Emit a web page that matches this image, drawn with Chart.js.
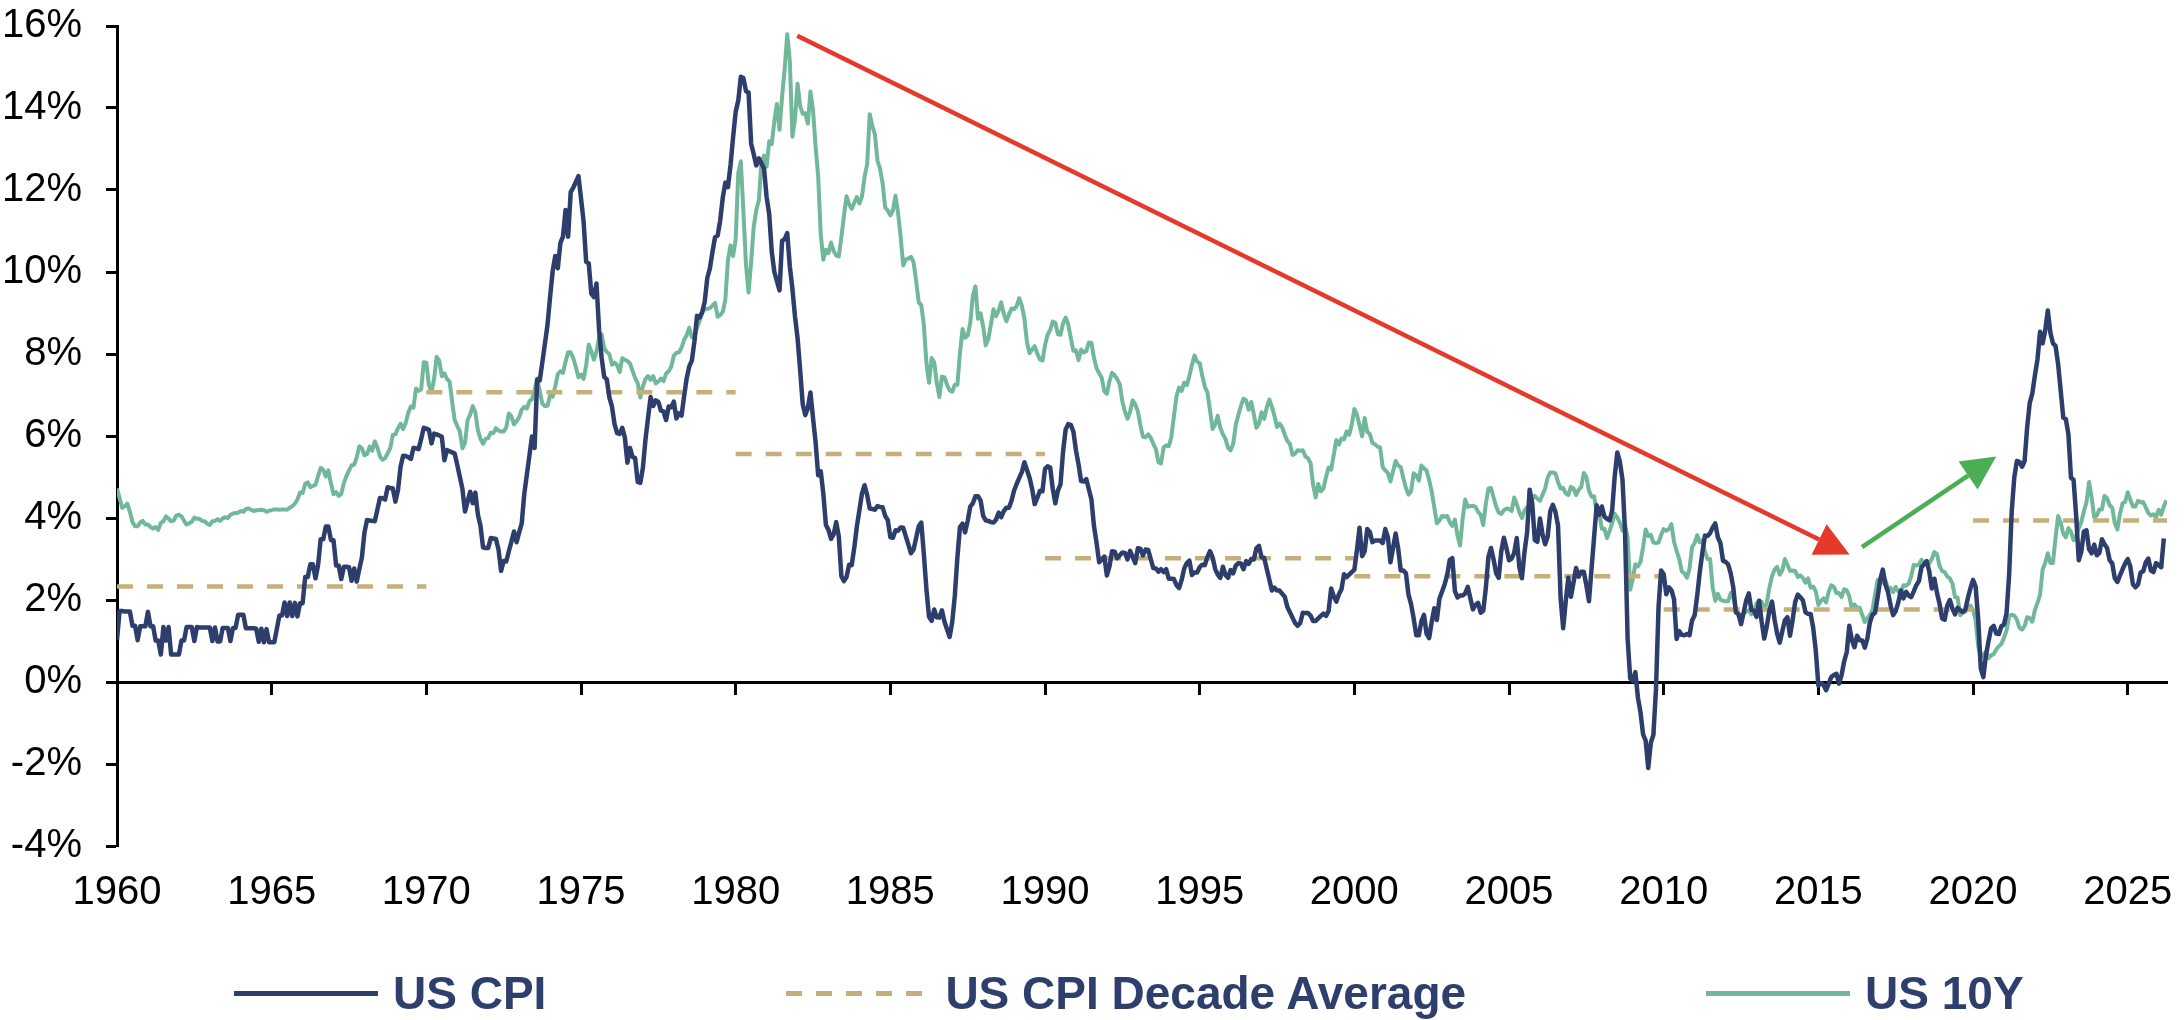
<!DOCTYPE html>
<html>
<head>
<meta charset="utf-8">
<title>US CPI vs US 10Y</title>
<script src="https://cdn.jsdelivr.net/npm/chart.js@4.4.1/dist/chart.umd.min.js"></script>
<style>
    html, body { margin: 0; padding: 0; background: #fff; }
    #wrap { position: relative; width: 2184px; height: 1020px; }
    #chart { display: block; }
    #legend {
        position: absolute; left: 234px; top: 968px; height: 50px;
        display: flex; align-items: center; gap: 240px;
        font-family: 'Liberation Sans', Arial, sans-serif;
        font-weight: bold; font-size: 46px; color: #2e3f6e; white-space: nowrap;
    }
    #legend .item { display: flex; align-items: center; }
    #legend .swatch { display: inline-block; width: 144px; height: 5px; margin-right: 15px; }
</style>
</head>
<body>
<div id="wrap">
    <canvas id="chart" width="2184" height="1020"></canvas>
    <div id="legend"></div>
</div>
<script>
// monthly series, first value = Jan 1960
const startYear = 1960;
const xMin = 1960;
const xMax = 2026.27;
const yearTicks = [1960, 1965, 1970, 1975, 1980, 1985, 1990, 1995, 2000, 2005, 2010, 2015, 2020, 2025];

// US CPI, % y/y
const cpiYoY = [
    1.03, 1.73, 1.73, 1.72, 1.72, 1.72, 1.37, 1.37, 1.02, 1.36, 1.36, 1.36, // 1960
    1.71, 1.36, 1.36, 1.01, 1.01, 0.67, 1.34, 1.01, 1.34, 0.67, 0.67, 0.67,
    0.67, 1.01, 1.01, 1.34, 1.34, 1.34, 1.00, 1.34, 1.33, 1.33, 1.33, 1.33,
    1.33, 1.00, 1.33, 0.99, 0.99, 1.32, 1.32, 1.32, 1.00, 1.32, 1.32, 1.64,
    1.64, 1.64, 1.31, 1.31, 1.31, 1.31, 1.30, 0.98, 1.30, 0.97, 1.29, 0.97,
    0.97, 0.97, 1.29, 1.62, 1.62, 1.94, 1.61, 1.94, 1.61, 1.93, 1.60, 1.92, // 1965
    1.92, 2.56, 2.56, 2.87, 2.87, 2.53, 2.85, 3.48, 3.48, 3.79, 3.79, 3.46,
    3.46, 2.84, 2.84, 2.51, 2.81, 2.81, 2.80, 2.47, 2.77, 2.45, 2.75, 3.04,
    3.65, 3.95, 3.94, 3.93, 3.92, 4.20, 4.49, 4.48, 4.45, 4.75, 4.73, 4.72,
    4.40, 4.68, 5.25, 5.52, 5.51, 5.48, 5.44, 5.71, 5.70, 5.68, 5.93, 6.20,
    6.18, 6.15, 5.82, 6.06, 6.04, 6.01, 5.98, 5.41, 5.66, 5.63, 5.60, 5.57, // 1970
    5.29, 5.00, 4.71, 4.16, 4.40, 4.64, 4.36, 4.62, 4.08, 3.81, 3.28, 3.27,
    3.27, 3.51, 3.50, 3.49, 3.23, 2.71, 2.95, 2.94, 3.19, 3.42, 3.67, 3.41,
    3.65, 3.87, 4.59, 5.06, 5.53, 5.99, 5.71, 7.38, 7.36, 7.80, 8.25, 8.71,
    9.39, 10.02, 10.39, 10.09, 10.71, 10.86, 11.51, 10.86, 11.95, 12.06, 12.20, 12.34,
    11.80, 11.23, 10.25, 10.21, 9.47, 9.39, 9.72, 8.60, 7.91, 7.44, 7.38, 6.94, // 1975
    6.72, 6.29, 6.07, 6.05, 6.20, 5.97, 5.35, 5.71, 5.49, 5.46, 4.88, 4.86,
    5.22, 5.91, 6.44, 6.95, 6.73, 6.87, 6.83, 6.62, 6.60, 6.39, 6.72, 6.70,
    6.84, 6.43, 6.55, 6.50, 6.97, 7.41, 7.70, 7.84, 8.31, 8.93, 8.89, 9.02,
    9.28, 9.86, 10.09, 10.49, 10.85, 10.89, 11.26, 11.82, 12.18, 12.07, 12.61, 13.29,
    13.91, 14.18, 14.76, 14.73, 14.41, 14.38, 13.13, 12.87, 12.60, 12.77, 12.65, 12.52, // 1980
    11.83, 11.41, 10.49, 10.00, 9.78, 9.55, 10.76, 10.80, 10.95, 10.14, 9.59, 8.92,
    8.39, 7.62, 6.78, 6.51, 6.68, 7.06, 6.44, 5.85, 5.04, 5.14, 4.59, 3.83,
    3.71, 3.49, 3.60, 3.90, 3.55, 2.58, 2.46, 2.56, 2.86, 2.85, 3.27, 3.79,
    4.19, 4.60, 4.80, 4.56, 4.23, 4.22, 4.20, 4.29, 4.27, 4.26, 4.05, 3.95,
    3.53, 3.52, 3.70, 3.69, 3.77, 3.76, 3.55, 3.35, 3.14, 3.23, 3.51, 3.80, // 1985
    3.89, 3.11, 2.26, 1.59, 1.49, 1.77, 1.58, 1.57, 1.75, 1.47, 1.28, 1.10,
    1.46, 2.10, 3.03, 3.78, 3.86, 3.65, 3.93, 4.28, 4.36, 4.53, 4.53, 4.43,
    4.05, 3.94, 3.93, 3.90, 3.89, 3.96, 4.13, 4.02, 4.17, 4.25, 4.25, 4.42,
    4.67, 4.83, 4.98, 5.12, 5.36, 5.17, 4.98, 4.71, 4.34, 4.49, 4.66, 4.65,
    5.20, 5.26, 5.23, 4.71, 4.36, 4.67, 4.82, 5.62, 6.16, 6.29, 6.27, 6.11, // 1990
    5.65, 5.31, 4.90, 4.89, 4.95, 4.70, 4.45, 3.80, 3.39, 2.92, 2.99, 3.06,
    2.60, 2.82, 3.19, 3.18, 3.02, 3.09, 3.16, 3.15, 2.99, 3.20, 3.05, 2.90,
    3.26, 3.25, 3.09, 3.23, 3.22, 3.00, 2.78, 2.77, 2.69, 2.75, 2.68, 2.75,
    2.52, 2.52, 2.51, 2.36, 2.29, 2.49, 2.77, 2.90, 2.96, 2.61, 2.67, 2.67,
    2.80, 2.86, 2.85, 3.05, 3.19, 3.04, 2.76, 2.62, 2.54, 2.81, 2.61, 2.54, // 1995
    2.73, 2.65, 2.84, 2.90, 2.89, 2.75, 2.95, 2.88, 3.00, 2.99, 3.26, 3.32,
    3.04, 3.03, 2.76, 2.50, 2.23, 2.30, 2.23, 2.23, 2.15, 2.08, 1.83, 1.70,
    1.57, 1.44, 1.37, 1.44, 1.69, 1.68, 1.68, 1.62, 1.49, 1.49, 1.55, 1.61,
    1.67, 1.61, 1.73, 2.28, 2.09, 1.96, 2.14, 2.26, 2.63, 2.56, 2.62, 2.68,
    2.74, 3.22, 3.76, 3.07, 3.19, 3.73, 3.66, 3.41, 3.45, 3.45, 3.45, 3.39, // 2000
    3.73, 3.53, 2.92, 3.27, 3.62, 3.25, 2.72, 2.72, 2.65, 2.13, 1.90, 1.55,
    1.14, 1.14, 1.48, 1.64, 1.18, 1.07, 1.46, 1.80, 1.51, 2.03, 2.20, 2.38,
    2.60, 2.98, 3.02, 2.22, 2.06, 2.11, 2.11, 2.16, 2.32, 2.04, 1.77, 1.88,
    1.93, 1.69, 1.74, 2.29, 3.05, 3.27, 2.99, 2.65, 2.54, 3.19, 3.52, 3.26,
    2.97, 3.01, 3.15, 3.51, 2.80, 2.53, 3.17, 3.64, 4.69, 4.35, 3.46, 3.42, // 2005
    3.99, 3.60, 3.36, 3.55, 4.17, 4.32, 4.15, 3.82, 2.06, 1.31, 1.97, 2.54,
    2.08, 2.42, 2.78, 2.57, 2.69, 2.69, 2.36, 1.97, 2.76, 3.54, 4.31, 4.08,
    4.28, 4.03, 3.98, 3.94, 4.18, 5.02, 5.60, 5.37, 4.94, 3.66, 1.07, 0.09,
    0.03, 0.24, -0.38, -0.74, -1.28, -1.43, -2.10, -1.48, -1.29, -0.18, 1.84, 2.72,
    2.63, 2.14, 2.31, 2.24, 2.02, 1.05, 1.24, 1.15, 1.14, 1.17, 1.14, 1.50, // 2010
    1.63, 2.11, 2.68, 3.16, 3.57, 3.56, 3.63, 3.77, 3.87, 3.53, 3.39, 2.96,
    2.93, 2.87, 2.65, 2.30, 1.70, 1.66, 1.41, 1.69, 1.99, 2.16, 1.76, 1.74,
    1.59, 1.98, 1.47, 1.06, 1.36, 1.75, 1.96, 1.52, 1.18, 0.96, 1.24, 1.50,
    1.58, 1.13, 1.51, 1.95, 2.13, 2.07, 1.99, 1.70, 1.66, 1.66, 1.32, 0.76,
    -0.09, -0.03, -0.07, -0.20, -0.04, 0.12, 0.17, 0.20, -0.04, 0.17, 0.50, 0.73, // 2015
    1.37, 1.02, 0.85, 1.13, 1.02, 1.01, 0.84, 1.06, 1.46, 1.64, 1.69, 2.07,
    2.50, 2.74, 2.38, 2.20, 1.87, 1.63, 1.73, 1.94, 2.23, 2.04, 2.20, 2.11,
    2.07, 2.21, 2.36, 2.46, 2.80, 2.87, 2.95, 2.70, 2.28, 2.52, 2.18, 1.91,
    1.55, 1.52, 1.86, 2.00, 1.79, 1.65, 1.81, 1.75, 1.71, 1.76, 2.05, 2.29,
    2.49, 2.33, 1.54, 0.33, 0.12, 0.65, 0.99, 1.31, 1.37, 1.18, 1.17, 1.36, // 2020
    1.40, 1.68, 2.62, 4.16, 4.99, 5.39, 5.37, 5.25, 5.39, 6.22, 6.81, 7.04,
    7.48, 7.87, 8.54, 8.26, 8.58, 9.06, 8.52, 8.26, 8.20, 7.75, 7.11, 6.45,
    6.41, 6.04, 4.98, 4.93, 4.05, 2.97, 3.18, 3.67, 3.70, 3.24, 3.14, 3.35,
    3.09, 3.15, 3.48, 3.36, 3.27, 2.97, 2.89, 2.53, 2.44, 2.60, 2.75, 2.89,
    3.00, 2.82, 2.39, 2.31, 2.38, 2.67, 2.70, 2.92, 3.01, 2.72, 2.68, 2.90, // 2025
    2.85, 2.80, 3.50
];

// US 10Y Treasury yield, %
const us10y = [
    4.72, 4.49, 4.25, 4.28, 4.35, 4.15, 3.90, 3.80, 3.80, 3.89, 3.93, 3.84, // 1960
    3.84, 3.78, 3.74, 3.78, 3.71, 3.88, 3.92, 4.04, 3.98, 3.92, 3.94, 4.06,
    4.08, 4.04, 3.93, 3.84, 3.87, 3.91, 4.01, 3.98, 3.98, 3.93, 3.92, 3.86,
    3.83, 3.92, 3.93, 3.97, 3.93, 3.99, 4.02, 4.00, 4.08, 4.11, 4.12, 4.13,
    4.17, 4.15, 4.22, 4.23, 4.20, 4.17, 4.19, 4.19, 4.20, 4.19, 4.15, 4.18,
    4.19, 4.21, 4.21, 4.20, 4.21, 4.21, 4.20, 4.25, 4.29, 4.35, 4.45, 4.62, // 1965
    4.61, 4.83, 4.87, 4.75, 4.78, 4.81, 5.02, 5.22, 5.18, 5.01, 5.16, 4.84,
    4.58, 4.63, 4.54, 4.59, 4.85, 5.02, 5.16, 5.28, 5.30, 5.48, 5.75, 5.70,
    5.53, 5.56, 5.74, 5.64, 5.87, 5.72, 5.50, 5.42, 5.46, 5.58, 5.70, 6.03,
    6.04, 6.19, 6.30, 6.17, 6.32, 6.57, 6.72, 6.69, 7.16, 7.10, 7.14, 7.80,
    7.79, 7.24, 7.07, 7.39, 7.93, 7.84, 7.46, 7.53, 7.39, 7.33, 6.84, 6.39, // 1970
    6.24, 6.11, 5.70, 5.83, 6.39, 6.52, 6.73, 6.58, 6.14, 5.93, 5.81, 5.93,
    5.95, 6.08, 6.07, 6.19, 6.13, 6.11, 6.11, 6.21, 6.55, 6.48, 6.28, 6.36,
    6.46, 6.64, 6.71, 6.67, 6.85, 6.90, 7.13, 7.40, 7.09, 6.79, 6.73, 6.74,
    6.99, 6.96, 7.21, 7.51, 7.58, 7.54, 7.81, 8.04, 8.04, 7.90, 7.68, 7.43,
    7.50, 7.39, 7.73, 8.23, 8.06, 7.86, 8.06, 8.40, 8.48, 8.14, 8.05, 8.00, // 1975
    7.74, 7.79, 7.73, 7.56, 7.90, 7.86, 7.83, 7.77, 7.59, 7.41, 7.29, 6.94,
    7.21, 7.39, 7.46, 7.37, 7.46, 7.28, 7.33, 7.40, 7.34, 7.52, 7.58, 7.69,
    7.96, 8.03, 8.04, 8.15, 8.35, 8.46, 8.64, 8.41, 8.42, 8.64, 8.81, 9.01,
    9.10, 9.10, 9.12, 9.18, 9.25, 8.91, 8.95, 9.03, 9.33, 10.30, 10.65, 10.39,
    10.80, 12.41, 12.70, 11.47, 10.18, 9.50, 10.25, 11.10, 11.51, 11.75, 12.68, 12.84, // 1980
    12.57, 13.19, 13.12, 13.68, 14.10, 13.47, 14.28, 14.94, 15.80, 15.15, 13.30, 13.72,
    14.59, 14.05, 13.86, 13.87, 13.62, 14.40, 13.95, 13.06, 12.34, 10.91, 10.30, 10.54,
    10.46, 10.72, 10.51, 10.40, 10.38, 10.85, 11.38, 11.85, 11.65, 11.54, 11.69, 11.83,
    11.67, 11.84, 12.32, 12.63, 13.85, 13.56, 13.36, 12.72, 12.52, 12.16, 11.57, 11.50,
    11.38, 11.51, 11.86, 11.43, 10.85, 10.16, 10.31, 10.33, 10.37, 10.24, 9.78, 9.26, // 1985
    9.19, 8.70, 7.78, 7.30, 7.90, 7.80, 7.30, 6.95, 7.45, 7.43, 7.25, 7.11,
    7.08, 7.25, 7.25, 8.02, 8.61, 8.40, 8.45, 8.76, 9.42, 9.65, 8.86, 8.99,
    8.67, 8.21, 8.37, 8.72, 9.09, 8.92, 9.06, 9.26, 8.98, 8.80, 8.96, 9.11,
    9.09, 9.17, 9.36, 9.18, 8.86, 8.28, 8.02, 8.11, 8.19, 8.01, 7.87, 7.84,
    8.21, 8.47, 8.59, 8.79, 8.76, 8.48, 8.47, 8.75, 8.89, 8.72, 8.39, 8.08, // 1990
    8.09, 7.85, 8.11, 8.04, 8.07, 8.28, 8.27, 7.90, 7.65, 7.53, 7.42, 7.09,
    7.03, 7.34, 7.54, 7.48, 7.39, 7.26, 6.84, 6.59, 6.42, 6.59, 6.87, 6.77,
    6.60, 6.26, 5.98, 5.97, 6.04, 5.96, 5.81, 5.68, 5.36, 5.33, 5.72, 5.77,
    5.75, 5.97, 6.48, 6.97, 7.18, 7.10, 7.30, 7.24, 7.46, 7.74, 7.96, 7.81,
    7.78, 7.47, 7.20, 7.06, 6.63, 6.17, 6.28, 6.49, 6.20, 6.04, 5.93, 5.71, // 1995
    5.65, 5.81, 6.27, 6.51, 6.74, 6.91, 6.87, 6.64, 6.83, 6.53, 6.20, 6.30,
    6.58, 6.42, 6.69, 6.89, 6.71, 6.49, 6.22, 6.30, 6.21, 6.03, 5.88, 5.81,
    5.54, 5.57, 5.65, 5.64, 5.65, 5.50, 5.46, 5.34, 4.81, 4.50, 4.83, 4.65,
    4.72, 5.00, 5.23, 5.18, 5.54, 5.90, 5.79, 5.94, 5.92, 6.11, 6.03, 6.28,
    6.66, 6.52, 6.26, 5.99, 6.44, 6.10, 6.05, 5.83, 5.80, 5.74, 5.72, 5.24, // 2000
    5.16, 5.10, 4.89, 5.14, 5.39, 5.28, 5.24, 4.97, 4.73, 4.57, 4.65, 5.09,
    5.04, 4.91, 5.28, 5.21, 5.16, 4.93, 4.65, 4.26, 3.87, 3.94, 4.05, 4.03,
    4.05, 3.90, 3.81, 3.96, 3.57, 3.33, 3.98, 4.45, 4.27, 4.29, 4.30, 4.27,
    4.15, 4.08, 3.83, 4.35, 4.72, 4.73, 4.50, 4.28, 4.13, 4.10, 4.19, 4.23,
    4.22, 4.17, 4.50, 4.34, 4.14, 4.00, 4.18, 4.26, 4.20, 4.46, 4.54, 4.47, // 2005
    4.42, 4.57, 4.72, 4.99, 5.11, 5.11, 5.09, 4.88, 4.72, 4.73, 4.60, 4.56,
    4.76, 4.72, 4.56, 4.69, 4.75, 5.10, 5.00, 4.67, 4.52, 4.53, 4.15, 4.10,
    3.74, 3.74, 3.51, 3.68, 3.88, 4.10, 4.01, 3.89, 3.69, 3.81, 3.53, 2.25,
    2.52, 2.87, 2.82, 2.93, 3.29, 3.72, 3.56, 3.59, 3.40, 3.39, 3.40, 3.59,
    3.73, 3.69, 3.73, 3.85, 3.42, 3.20, 3.01, 2.70, 2.65, 2.54, 2.76, 3.29, // 2010
    3.39, 3.58, 3.41, 3.46, 3.17, 3.00, 3.00, 2.30, 1.98, 2.15, 2.01, 1.98,
    1.97, 1.97, 2.17, 2.05, 1.80, 1.62, 1.50, 1.68, 1.72, 1.75, 1.65, 1.72,
    1.91, 1.98, 1.96, 1.76, 1.93, 2.30, 2.58, 2.74, 2.81, 2.62, 2.72, 3.00,
    2.86, 2.71, 2.72, 2.71, 2.56, 2.60, 2.54, 2.42, 2.53, 2.30, 2.33, 2.21,
    1.88, 1.98, 2.04, 1.94, 2.20, 2.36, 2.32, 2.17, 2.17, 2.07, 2.26, 2.24, // 2015
    2.09, 1.78, 1.89, 1.81, 1.81, 1.64, 1.46, 1.56, 1.63, 1.76, 2.14, 2.49,
    2.43, 2.42, 2.48, 2.30, 2.30, 2.19, 2.32, 2.21, 2.20, 2.36, 2.35, 2.40,
    2.58, 2.86, 2.84, 2.87, 2.98, 2.91, 2.89, 2.89, 3.00, 3.17, 3.12, 2.83,
    2.71, 2.68, 2.57, 2.53, 2.40, 2.07, 2.06, 1.63, 1.70, 1.71, 1.81, 1.86,
    1.76, 1.50, 0.87, 0.60, 0.67, 0.73, 0.58, 0.65, 0.68, 0.79, 0.87, 0.93, // 2020
    1.08, 1.26, 1.61, 1.64, 1.62, 1.52, 1.32, 1.28, 1.37, 1.58, 1.56, 1.47,
    1.76, 1.93, 2.13, 2.75, 2.90, 3.14, 2.90, 2.90, 3.52, 4.05, 3.89, 3.62,
    3.53, 3.75, 3.66, 3.46, 3.57, 3.75, 3.90, 4.17, 4.38, 4.88, 4.50, 4.02,
    4.06, 4.21, 4.21, 4.54, 4.48, 4.31, 4.25, 3.87, 3.72, 4.10, 4.36, 4.39,
    4.63, 4.45, 4.28, 4.28, 4.42, 4.38, 4.39, 4.26, 4.12, 4.06, 4.09, 4.02, // 2025
    4.20, 4.08, 4.28, 4.43
];

// US CPI decade averages, %
const decadeStart = [1960, 1970, 1980, 1990, 2000, 2010, 2020];
const decadeEnd = [1970, 1980, 1990, 2000, 2010, 2020, xMax];
const decadeAvg = [2.33, 7.07, 5.56, 3.02, 2.58, 1.77, 3.94];

// trend arrows, [year, %]
const trendArrows = [
    { from: [1981.99, 15.76], to: [2016.01, 3.11], color: '#e5392b' },
    { from: [2016.41, 3.29], to: [2020.75, 5.50], color: '#4cae52' },
];

const navy = '#2d3e6c';
const seafoam = '#71b89a';
const gold = '#c5b079';

const monthly = (values) => values.map((v, i) => ({ x: startYear + i / 12, y: v }));

const decadePoints = [];
decadeAvg.forEach((avg, i) => {
    decadePoints.push({ x: decadeStart[i], y: avg });
    decadePoints.push({ x: decadeEnd[i], y: avg });
    decadePoints.push({ x: decadeEnd[i], y: null });
});

const arrowPlugin = {
    id: 'trendArrows',
    afterDatasetsDraw(chart) {
        const { ctx, scales: { x, y } } = chart;
        const head = 34;
        const half = 17;
        trendArrows.forEach((arrow) => {
            const x1 = x.getPixelForValue(arrow.from[0]);
            const y1 = y.getPixelForValue(arrow.from[1]);
            const x2 = x.getPixelForValue(arrow.to[0]);
            const y2 = y.getPixelForValue(arrow.to[1]);
            const angle = Math.atan2(y2 - y1, x2 - x1);
            const bx = x2 - head * Math.cos(angle);
            const by = y2 - head * Math.sin(angle);

            ctx.save();
            ctx.strokeStyle = arrow.color;
            ctx.fillStyle = arrow.color;
            ctx.lineWidth = 4.5;
            ctx.beginPath();
            ctx.moveTo(x1, y1);
            ctx.lineTo(bx, by);
            ctx.stroke();
            ctx.beginPath();
            ctx.moveTo(x2, y2);
            ctx.lineTo(bx + half * Math.sin(angle), by - half * Math.cos(angle));
            ctx.lineTo(bx - half * Math.sin(angle), by + half * Math.cos(angle));
            ctx.closePath();
            ctx.fill();
            ctx.restore();
        });
    },
};

const htmlLegend = {
    id: 'htmlLegend',
    afterUpdate(chart) {
        const box = document.getElementById('legend');
        box.innerHTML = '';
        chart.data.datasets.forEach((ds) => {
            const item = document.createElement('div');
            item.className = 'item';
            const swatch = document.createElement('span');
            swatch.className = 'swatch';
            swatch.style.background = ds.borderDash
                ? `repeating-linear-gradient(to right, ${ds.borderColor} 0 16px, transparent 16px 30px)`
                : ds.borderColor;
            const text = document.createElement('span');
            text.textContent = ds.label;
            item.append(swatch, text);
            box.append(item);
        });
    },
};

const setYearTicks = (scale) => {
    scale.ticks = yearTicks.map((v) => ({ value: v }));
};

Chart.defaults.font.family = "'Liberation Sans', Arial, sans-serif";

new Chart(document.getElementById('chart'), {
    type: 'line',
    data: {
        datasets: [
            {
                label: 'US CPI',
                data: monthly(cpiYoY),
                borderColor: navy,
                borderWidth: 4.5,
            },
            {
                label: 'US CPI Decade Average',
                data: decadePoints,
                borderColor: gold,
                borderWidth: 4.5,
                borderDash: [16, 14],
                spanGaps: false,
            },
            {
                label: 'US 10Y',
                data: monthly(us10y),
                borderColor: seafoam,
                borderWidth: 4,
            },
        ],
    },
    options: {
        responsive: false,
        animation: false,
        layout: { padding: { top: 26, right: 17, left: 0, bottom: 0 } },
        elements: {
            point: { radius: 0 },
            line: { tension: 0, borderJoinStyle: 'round', fill: false },
        },
        plugins: {
            legend: { display: false },
            tooltip: { enabled: false },
        },
        scales: {
            x: {
                type: 'linear',
                min: xMin,
                max: xMax,
                position: 'bottom',
                afterBuildTicks: setYearTicks,
                afterFit: (scale) => {
                    scale.height = 174;
                    scale.paddingLeft = 0;
                    scale.paddingRight = 0;
                },
                grid: { display: false, drawTicks: false },
                border: { display: false },
                ticks: {
                    color: '#000',
                    font: { size: 40 },
                    padding: 23,
                    maxRotation: 0,
                    autoSkip: false,
                    callback: (v) => String(v),
                },
            },
            xZero: {
                type: 'linear',
                min: xMin,
                max: xMax,
                position: { y: 0 },
                afterBuildTicks: setYearTicks,
                afterFit: (scale) => {
                    scale.paddingLeft = 0;
                    scale.paddingRight = 0;
                },
                grid: { drawOnChartArea: false, drawTicks: true, tickLength: 11, tickWidth: 3, tickColor: '#000' },
                border: { display: true, color: '#000', width: 3 },
                ticks: { display: false },
            },
            y: {
                min: -4,
                max: 16,
                afterFit: (scale) => {
                    scale.width = 117;
                    scale.paddingTop = 0;
                    scale.paddingBottom = 0;
                },
                grid: { drawOnChartArea: false, tickLength: 11, tickWidth: 3, tickColor: '#000' },
                border: { color: '#000', width: 3 },
                ticks: {
                    stepSize: 2,
                    color: '#000',
                    font: { size: 40 },
                    padding: 24,
                    callback: (v) => v + '%',
                },
            },
        },
    },
    plugins: [arrowPlugin, htmlLegend],
});
</script>
</body>
</html>
